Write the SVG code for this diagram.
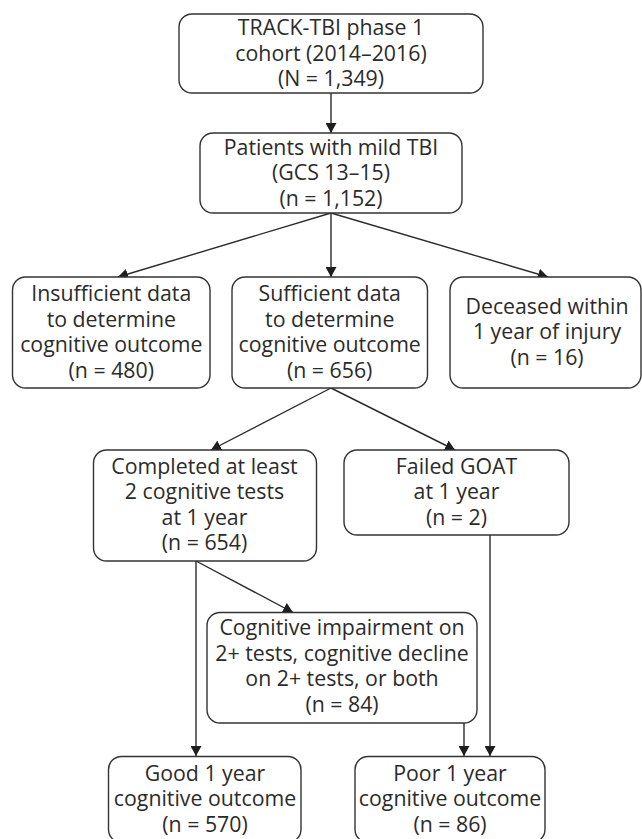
<svg xmlns="http://www.w3.org/2000/svg" width="642" height="839" viewBox="0 0 642 839">
<style>
.box{fill:#fff;stroke:#333;stroke-width:1.4}
.t{font-family:"Open Sans","Noto Sans","DejaVu Sans",sans-serif;font-size:21.3px;fill:#2b2b2b;text-anchor:middle}
.c{fill:none;stroke:#2b2b2b;stroke-width:1.4}
</style>
<defs>
<marker id="ah" viewBox="0 0 10 11" markerWidth="10" markerHeight="11" refX="10" refY="5.5" orient="auto" markerUnits="userSpaceOnUse" preserveAspectRatio="none">
<path d="M0,0 L10,5.5 L0,11 z" fill="#1e1e1e"/>
</marker>
</defs>
<rect width="642" height="839" fill="#fff"/>
<g id="connectors">
<line class="c" x1="331" y1="93" x2="331" y2="133" marker-end="url(#ah)"/>
<line class="c" x1="331" y1="213" x2="118" y2="277" marker-end="url(#ah)"/>
<line class="c" x1="331" y1="213" x2="331" y2="277" marker-end="url(#ah)"/>
<line class="c" x1="331" y1="213" x2="548" y2="277" marker-end="url(#ah)"/>
<line class="c" x1="331" y1="388" x2="211" y2="450" marker-end="url(#ah)"/>
<line class="c" x1="331" y1="388" x2="455" y2="450" marker-end="url(#ah)"/>
<line class="c" x1="196" y1="561" x2="196" y2="756" marker-end="url(#ah)"/>
<line class="c" x1="196" y1="561" x2="293" y2="612.5" marker-end="url(#ah)"/>
<line class="c" x1="464" y1="723" x2="464" y2="756" marker-end="url(#ah)"/>
<line class="c" x1="490" y1="535" x2="490" y2="756" marker-end="url(#ah)"/>
</g>
<g id="cohort">
<rect class="box" x="179" y="14" width="304" height="79" rx="13"/>
<text class="t" x="331" y="35">TRACK-TBI phase 1</text>
<text class="t" x="331" y="60.5">cohort (2014–2016)</text>
<text class="t" x="331" y="86">(N = 1,349)</text>
</g>
<g id="mild">
<rect class="box" x="200" y="133" width="262" height="80" rx="13"/>
<text class="t" x="331" y="154.5">Patients with mild TBI</text>
<text class="t" x="331" y="180">(GCS 13–15)</text>
<text class="t" x="331" y="205.5">(n = 1,152)</text>
</g>
<g id="insufficient">
<rect class="box" x="12.5" y="277" width="197.5" height="111" rx="13"/>
<text class="t" x="111.3" y="301">Insufficient data</text>
<text class="t" x="111.3" y="326.5">to determine</text>
<text class="t" x="111.3" y="352">cognitive outcome</text>
<text class="t" x="111.3" y="377.5">(n = 480)</text>
</g>
<g id="sufficient">
<rect class="box" x="232" y="277" width="195.5" height="111" rx="13"/>
<text class="t" x="329.7" y="301">Sufficient data</text>
<text class="t" x="329.7" y="326.5">to determine</text>
<text class="t" x="329.7" y="352">cognitive outcome</text>
<text class="t" x="329.7" y="377.5">(n = 656)</text>
</g>
<g id="deceased">
<rect class="box" x="450" y="277" width="191" height="111" rx="13"/>
<text class="t" x="547" y="313.5">Deceased within</text>
<text class="t" x="547" y="339">1 year of injury</text>
<text class="t" x="547" y="364.5">(n = 16)</text>
</g>
<g id="completed">
<rect class="box" x="93.5" y="450" width="223" height="111" rx="13"/>
<text class="t" x="204.5" y="473.5">Completed at least</text>
<text class="t" x="204.5" y="499">2 cognitive tests</text>
<text class="t" x="204.5" y="524.5">at 1 year</text>
<text class="t" x="204.5" y="550">(n = 654)</text>
</g>
<g id="failed">
<rect class="box" x="344" y="450" width="225" height="85" rx="13"/>
<text class="t" x="456.5" y="473.5">Failed GOAT</text>
<text class="t" x="456.5" y="499">at 1 year</text>
<text class="t" x="456.5" y="524.5">(n = 2)</text>
</g>
<g id="impairment">
<rect class="box" x="207" y="612.5" width="270" height="110.5" rx="13"/>
<text class="t" x="342" y="635">Cognitive impairment on</text>
<text class="t" x="342" y="660.5">2+ tests, cognitive decline</text>
<text class="t" x="342" y="686">on 2+ tests, or both</text>
<text class="t" x="342" y="711.5">(n = 84)</text>
</g>
<g id="good">
<rect class="box" x="108.5" y="756.5" width="192.5" height="86" rx="13"/>
<text class="t" x="205" y="780.5">Good 1 year</text>
<text class="t" x="205" y="806">cognitive outcome</text>
<text class="t" x="205" y="831.5">(n = 570)</text>
</g>
<g id="poor">
<rect class="box" x="355" y="756.5" width="190" height="86" rx="13"/>
<text class="t" x="450" y="780.5">Poor 1 year</text>
<text class="t" x="450" y="806">cognitive outcome</text>
<text class="t" x="450" y="831.5">(n = 86)</text>
</g>
</svg>
